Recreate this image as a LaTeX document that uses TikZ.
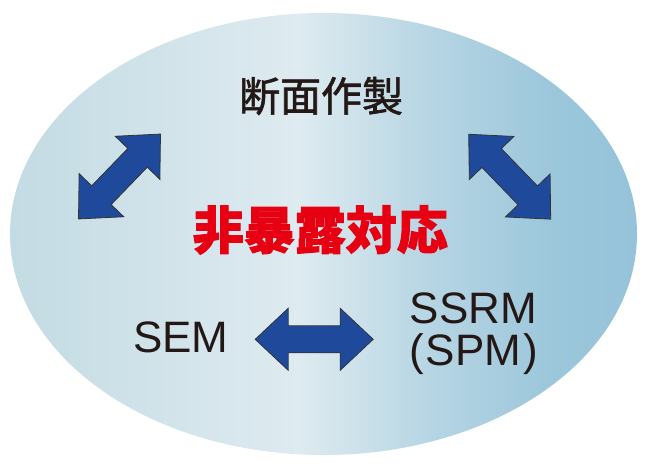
\documentclass[tikz,border=0pt]{standalone}
\usepackage{fontspec}
\setmainfont{Liberation Sans}
\newfontfamily\jpfont{Noto Sans CJK JP}[FakeBold=1.5,BoldFeatures={FakeBold=1.8}]
\usepackage{xcolor}
\definecolor{arrowblue}{HTML}{1F4A9C}
\definecolor{inkred}{HTML}{E60012}
\definecolor{inkblack}{HTML}{231815}
\definecolor{ovalleft}{HTML}{C3DBE3}
\definecolor{ovalmid}{HTML}{DEEBF0}
\definecolor{ovalmidr}{HTML}{B8D6E4}
\definecolor{ovalrightin}{HTML}{9CC7DB}
\definecolor{ovalright}{HTML}{95C3D9}
\pgfdeclarehorizontalshading{ovalshade}{100bp}{
  color(0bp)=(ovalleft); color(25bp)=(ovalleft); color(48bp)=(ovalmid);
  color(58bp)=(ovalmidr); color(68bp)=(ovalrightin); color(75bp)=(ovalright);
  color(100bp)=(ovalright)}

\begin{document}
\begin{tikzpicture}[x=1pt,y=-1pt,
  term/.style={text=inkblack,inner sep=0pt,anchor=base,font=\fontsize{44}{48}\selectfont},
  jpterm/.style={text=inkblack,inner sep=0pt,font=\jpfont\fontsize{41}{44}\selectfont},
  focus/.style={text=inkred,inner sep=0pt,font=\jpfont\bfseries\fontsize{51}{54}\selectfont},
  arrbody/.style={fill=arrowblue,draw=black!80,line width=0.8pt,line join=miter},
  dblarr/.pic={
    \draw[arrbody] (-59,0) -- (-26,-31) -- (-26,-13.5) -- (26,-13.5) -- (26,-31)
      -- (59,0) -- (26,31) -- (26,13.5) -- (-26,13.5) -- (-26,31) -- cycle;
  }
]
\useasboundingbox (0,0) rectangle (647,469);
\shade[shading=ovalshade] (323.5,234) ellipse [x radius=313.5pt,y radius=221pt];
% labels
\node[jpterm] (prep) at (321,96) {断面作製};
\node[focus] (core) at (320.3,230) {非暴露対応};
\node[term] (sem) at (180.7,352.7) {SEM};
\node[term] (ssrm) at (473.3,323.3) {SSRM};
\node[term] (spm) at (473.5,365) {(\kern2pt SPM\kern2pt)};
% arrows
\pic[rotate=46] (leftarr) at (119.5,176.5) {dblarr};
\pic[rotate=-46] (rightarr) at (509.7,176.7) {dblarr};
\pic (lowarr) at (314.2,339.3) {dblarr};
\end{tikzpicture}
\end{document}
